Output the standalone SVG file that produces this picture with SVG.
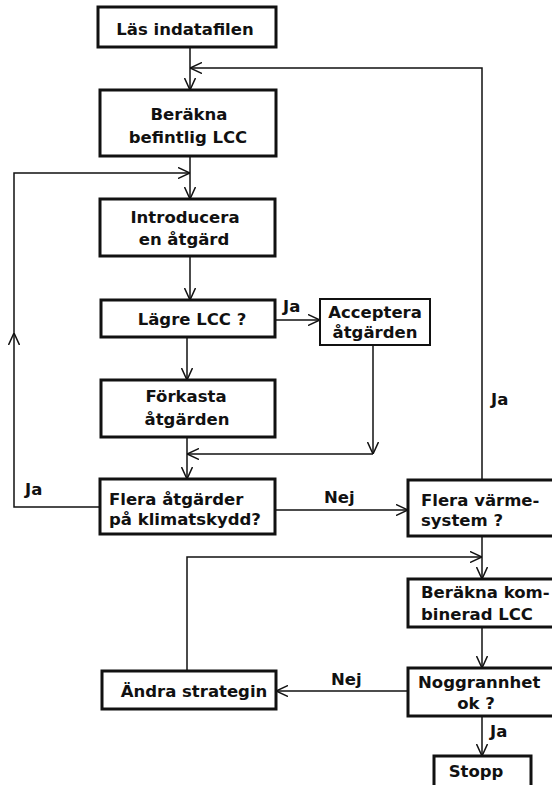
<svg xmlns="http://www.w3.org/2000/svg" width="552" height="785" viewBox="0 0 552 785">
<style>
.box{fill:#fff;stroke:#111;stroke-width:3}
.thin{fill:#fff;stroke:#111;stroke-width:2}
.t{font-family:"DejaVu Sans",sans-serif;font-weight:bold;font-size:16.5px;fill:#111}
.c{text-anchor:middle}
.ln{fill:none;stroke:#111;stroke-width:1.5}
</style>
<defs>
<marker id="ah" viewBox="0 0 12 12" refX="12" refY="6" markerWidth="12" markerHeight="12" markerUnits="userSpaceOnUse" orient="auto">
<path d="M0,0.5 L12,6 L0,11.5" fill="none" stroke="#111" stroke-width="1.5"/>
</marker>
</defs>
<rect width="552" height="785" fill="#fff"/>
<g id="connectors">
<path class="ln" d="M190,47 V90" marker-end="url(#ah)"/>
<path class="ln" d="M482,480 V68 H190" marker-end="url(#ah)"/>
<path class="ln" d="M190,156 V199" marker-end="url(#ah)"/>
<path class="ln" d="M100,507 H14 V333" marker-end="url(#ah)"/>
<path class="ln" d="M14,333 V173 H190" marker-end="url(#ah)"/>
<path class="ln" d="M190,256 V300" marker-end="url(#ah)"/>
<path class="ln" d="M275,320 H320" marker-end="url(#ah)"/>
<path class="ln" d="M187,337 V380" marker-end="url(#ah)"/>
<path class="ln" d="M373,345 V454" marker-end="url(#ah)"/>
<path class="ln" d="M373,454 H187" marker-end="url(#ah)"/>
<path class="ln" d="M187,437 V479" marker-end="url(#ah)"/>
<path class="ln" d="M275,510 H408" marker-end="url(#ah)"/>
<path class="ln" d="M187,671 V557 H482" marker-end="url(#ah)"/>
<path class="ln" d="M482,536 V579" marker-end="url(#ah)"/>
<path class="ln" d="M482,627 V668" marker-end="url(#ah)"/>
<path class="ln" d="M408,691 H276" marker-end="url(#ah)"/>
<path class="ln" d="M482,716 V756" marker-end="url(#ah)"/>
<text class="t" x="283" y="312">Ja</text>
<text class="t" x="25" y="495">Ja</text>
<text class="t" x="324" y="503">Nej</text>
<text class="t" x="491" y="405">Ja</text>
<text class="t" x="331" y="685">Nej</text>
<text class="t" x="490" y="737">Ja</text>
</g>
<g id="n1"><rect class="box" x="98" y="7" width="178" height="40"/><text class="t c" x="185" y="35">Läs indatafilen</text></g>
<g id="n2"><rect class="box" x="100" y="90" width="176" height="66"/><text class="t c" x="189" y="120">Beräkna</text><text class="t c" x="188" y="143">befintlig LCC</text></g>
<g id="n3"><rect class="box" x="100" y="199" width="175" height="57"/><text class="t c" x="185" y="223">Introducera</text><text class="t c" x="184" y="245">en åtgärd</text></g>
<g id="n4"><rect class="box" x="101" y="300" width="174" height="37"/><text class="t c" x="192" y="325">Lägre LCC ?</text></g>
<g id="n5"><rect class="thin" x="320" y="299" width="110" height="46"/><text class="t c" x="375" y="318">Acceptera</text><text class="t c" x="375" y="338">åtgärden</text></g>
<g id="n6"><rect class="box" x="101" y="380" width="174" height="57"/><text class="t c" x="186" y="402">Förkasta</text><text class="t c" x="187" y="425">åtgärden</text></g>
<g id="n7"><rect class="box" x="100" y="479" width="175" height="55"/><text class="t" x="109" y="505">Flera åtgärder</text><text class="t" x="109" y="525">på klimatskydd?</text></g>
<g id="n8"><rect class="box" x="408" y="480" width="160" height="56"/><text class="t" x="421" y="506">Flera värme-</text><text class="t" x="421" y="526">system ?</text></g>
<g id="n9"><rect class="box" x="408" y="579" width="160" height="48"/><text class="t" x="421" y="598">Beräkna kom-</text><text class="t" x="421" y="620">binerad LCC</text></g>
<g id="n10"><rect class="box" x="408" y="668" width="160" height="48"/><text class="t" x="418" y="688">Noggrannhet</text><text class="t c" x="476" y="709">ok ?</text></g>
<g id="n11"><rect class="box" x="102" y="671" width="174" height="38"/><text class="t c" x="194" y="697">Ändra strategin</text></g>
<g id="n12"><rect class="box" x="434" y="756" width="97" height="40"/><text class="t c" x="476" y="777">Stopp</text></g>
</svg>
